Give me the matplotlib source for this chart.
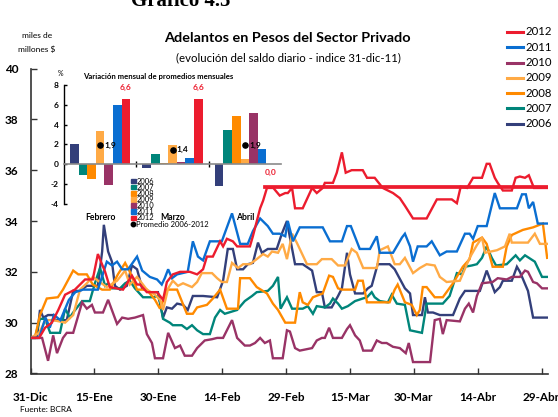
import matplotlib
matplotlib.use("Agg")
import matplotlib.pyplot as plt
from matplotlib.lines import Line2D
from matplotlib.patches import Rectangle
import numpy as np

plt.rcParams['font.family'] = ['Lato', 'DejaVu Sans']

# ---------------- DATA ----------------
years = ['2006', '2007', '2008', '2009', '2010', '2011', '2012']
colors = {'2006': '#333F7A', '2007': '#00857A', '2008': '#FF8A00', '2009': '#FFAA45',
          '2010': '#993366', '2011': '#0A6ED1', '2012': '#EC1C2E'}

x_tick_days = [0, 15, 30, 45, 60, 75, 90, 105, 120]
x_tick_labels = ['31-Dic', '15-Ene', '30-Ene', '14-Feb', '29-Feb', '15-Mar', '30-Mar', '14-Abr', '29-Abr']
y_ticks = [28, 30, 32, 34, 36, 38, 40]

# (day since 31-Dic, index value)
s2012 = [(0, 29.4), (2, 29.4), (3.4, 29.8), (5, 30.0), (6.5, 30.5), (8.1, 31.1), (10.4, 31.3), (12.8, 31.7),
         (14.6, 31.7), (15.8, 32.7), (17.5, 32.0), (18.6, 31.4), (21.7, 31.3), (23.8, 31.85), (25, 31.5),
         (25.7, 31.5), (27.3, 31.2), (29.7, 31.2), (31.1, 30.9), (32, 31.6), (33.4, 31.9), (35.1, 32.0),
         (37.4, 32.0), (39.1, 31.9), (40.5, 32.1), (41.4, 32.6), (42.8, 32.6), (44.5, 33.2), (45.2, 33.0),
         (46.1, 33.3), (47.5, 33.2), (48.5, 33.0), (51.5, 33.0), (52.2, 33.4), (53.9, 34.5), (54.6, 34.8),
         (55.5, 35.3), (57, 35.3), (58.5, 35.0), (59.8, 35.1), (60.4, 35.1), (61.4, 35.3), (62.1, 34.5),
         (63.9, 34.5), (66.1, 35.3), (67.2, 35.1), (68.6, 35.3), (69.1, 35.5), (71, 35.5), (71.9, 35.9),
         (73.1, 36.7), (74, 35.9), (75.4, 36.0), (78, 36.0), (79, 35.7), (80.8, 35.7), (82.7, 35.3),
         (85.1, 35.1), (86.7, 34.9), (87.9, 34.6), (89.8, 34.1), (93, 34.1), (95.4, 34.85), (98.9, 34.85),
         (100.1, 34.7), (101, 35.35), (102.5, 35.3), (103.9, 35.7), (106, 35.7), (107.1, 36.25),
         (107.8, 36.25), (109, 35.7), (109.7, 35.5), (110.9, 35.2), (113, 35.2), (113.9, 35.7),
         (114.9, 35.75), (116.1, 35.7), (117, 35.8), (118.2, 35.3), (121.3, 35.3)]
ref2012 = [(55, 35.33), (121.3, 35.33)]

s2011 = [(0, 29.4), (2, 29.4), (3.5, 30.2), (4.5, 29.8), (5.5, 30.3), (7, 30.1), (8, 30.5), (9, 30.9),
         (10.5, 31.2), (12.3, 31.3), (15.8, 31.3), (17.9, 32.4), (19.1, 32.25), (20.3, 32.4), (21.5, 32.1),
         (22.9, 32.1), (25, 32.6), (26.2, 32.05), (28, 31.8), (29.7, 31.7), (30.8, 31.5), (31.5, 31.75),
         (32.3, 32.1), (33.2, 31.75), (34.4, 31.9), (36.9, 32.0), (38.1, 33.2), (39.3, 32.6), (40.5, 32.45),
         (42.1, 33.2), (44.9, 33.2), (47.3, 34.3), (49.2, 33.1), (51, 33.1), (52.2, 33.6), (53.9, 34.1),
         (55.7, 33.8), (56.9, 33.5), (58.5, 33.5), (59.8, 33.4), (60.4, 34.0), (61.6, 33.2), (63.2, 33.75),
         (68.6, 33.75), (70.3, 33.2), (73.1, 33.2), (74.3, 33.8), (75.2, 33.8), (77.3, 32.9), (79.7, 32.9),
         (81.3, 33.4), (82, 32.75), (85.1, 32.75), (87.2, 33.35), (87.9, 33.5), (89.1, 33.0), (89.8, 32.4),
         (90.9, 33.0), (93, 33.0), (94.2, 33.2), (96.1, 32.65), (97.7, 32.8), (100.1, 32.8), (102, 33.5),
         (103.1, 33.5), (103.9, 33.3), (105, 33.8), (107.1, 33.8), (109, 35.1), (110.2, 34.5), (114.2, 34.5),
         (115.4, 35.05), (116.3, 35.05), (117, 34.5), (118, 34.75), (119.1, 33.9), (121.3, 33.9)]

s2010 = [(0, 29.4), (2.7, 29.4), (4.1, 28.5), (5.3, 29.5), (6.2, 28.8), (7.6, 29.4), (8.5, 29.6), (10, 29.6),
         (12.1, 30.8), (13.2, 30.55), (14.4, 30.7), (15.1, 30.4), (17, 30.4), (18.2, 30.9), (20.3, 29.95),
         (21.5, 30.2), (22.9, 30.15), (24.5, 30.2), (26.4, 30.3), (27.3, 29.55), (28.5, 29.2), (29.2, 28.6),
         (31.1, 28.6), (32.3, 29.6), (33.9, 29.0), (35.1, 29.1), (36.2, 28.7), (37.9, 28.7), (39.1, 29.0),
         (40.9, 29.3), (42.6, 29.35), (43.8, 29.4), (45.2, 29.4), (47.3, 30.1), (48.5, 29.4), (50.3, 29.1),
         (51.5, 29.1), (52.7, 29.2), (53.9, 29.4), (55, 29.2), (56.2, 29.3), (56.9, 28.6), (59.2, 28.6),
         (60.2, 29.7), (60.9, 29.65), (62.1, 29.0), (63.2, 28.9), (66.1, 29.0), (67.2, 29.3), (68.4, 29.4),
         (69.1, 29.4), (70.1, 29.8), (71, 29.4), (73.1, 29.4), (74.3, 29.75), (75, 29.9), (76.2, 29.5),
         (77.3, 29.3), (78.1, 28.9), (80.1, 28.9), (81.3, 29.3), (82.5, 29.2), (83.6, 29.2), (85.1, 29.05),
         (86.7, 29.0), (88.1, 28.8), (88.8, 29.2), (89.8, 28.45), (93.8, 28.45), (94.9, 30.1), (96.1, 30.15),
         (96.8, 29.55), (97.7, 30.1), (100.8, 30.05), (102, 30.55), (102.9, 30.75), (103.9, 30.4),
         (104.8, 31.05), (106, 31.55), (108.5, 31.6), (109.7, 31.75), (111.8, 31.7), (113, 31.8),
         (114.9, 31.8), (116.1, 32.05), (116.8, 32.0), (118, 31.6), (118.9, 31.55), (120.1, 31.35), (121.3, 31.35)]

s2009 = [(0, 29.4), (2, 29.6), (3.5, 30.1), (5.3, 30.1), (8.1, 30.0), (10, 30.3), (11.6, 31.3), (13.2, 31.55),
         (14.6, 31.8), (17.9, 31.4), (20.3, 31.65), (22.2, 32.05), (23.3, 31.5), (25, 31.8), (27.3, 31.3),
         (29.2, 31.1), (30.4, 30.9), (31.1, 30.5), (32.3, 31.35), (33.4, 31.65), (34.6, 31.45), (35.8, 31.55),
         (37.9, 31.4), (39.1, 31.6), (40.2, 31.95), (42.6, 31.95), (43.8, 31.75), (44.9, 31.6), (46.1, 31.6),
         (47.3, 32.35), (48.7, 32.15), (49.9, 32.3), (51.5, 32.3), (53.1, 32.5), (54.6, 32.7), (55.7, 32.6),
         (56.7, 32.8), (58.1, 32.75), (59.2, 33.1), (60.2, 32.5), (61.4, 33.5), (62.5, 33.15), (64.9, 32.3),
         (67.2, 32.3), (68.4, 32.5), (70.7, 32.5), (72.2, 32.25), (73.8, 32.25), (75.4, 32.9), (76.6, 32.75),
         (78.1, 32.15), (81.3, 32.15), (82, 32.85), (83.9, 33.0), (85.5, 32.3), (86.7, 32.3), (87.9, 32.55),
         (89.8, 31.95), (91.4, 32.15), (93, 32.3), (94.9, 32.25), (96.1, 31.8), (97.7, 31.6), (100.8, 31.65),
         (103.1, 32.55), (104.8, 33.05), (106, 33.35), (106.7, 32.75), (109.5, 32.85), (111.4, 33.0),
         (112.5, 33.5), (113, 33.15), (116.8, 33.15), (118.4, 33.5), (119.6, 33.1), (121.3, 33.1)]

s2008 = [(0, 29.4), (1, 29.4), (2.2, 30.3), (3.8, 30.95), (6.4, 31.0), (7.6, 31.3), (10, 32.05), (11.2, 31.9),
         (13.2, 31.9), (13.9, 31.7), (14.6, 31.5), (16.8, 31.3), (18.6, 31.3), (20.5, 31.9), (22.2, 32.35),
         (23.3, 32.0), (25, 31.3), (27.3, 31.3), (29.2, 30.9), (30.4, 30.55), (32, 31.3), (34.4, 31.3),
         (36.7, 30.35), (38.1, 30.35), (39.1, 30.6), (41.4, 30.7), (42.8, 30.95), (44.5, 31.3), (46.1, 30.55),
         (48.7, 30.55), (49.2, 31.75), (51.5, 31.75), (53.1, 31.4), (55.5, 31.15), (56.9, 30.75), (58.1, 30.5),
         (59.8, 30.0), (62.1, 30.0), (63.2, 31.2), (63.9, 30.8), (65.1, 30.7), (66.3, 31.0), (68.6, 31.15),
         (70.1, 31.85), (71, 31.8), (72.2, 31.35), (73.1, 31.3), (76.2, 31.3), (76.9, 31.65), (78, 31.65),
         (79, 30.8), (84.3, 30.8), (85.5, 31.3), (86.2, 31.5), (87.9, 30.8), (89.5, 30.7), (90.7, 30.3),
         (91.4, 30.5), (92.1, 31.4), (93, 31.4), (94.9, 31.0), (96.8, 31.0), (99.2, 31.55), (101.5, 32.2),
         (103.1, 32.5), (103.9, 33.15), (106, 33.35), (107.1, 33.1), (108.5, 32.2), (110.9, 32.2),
         (111.8, 33.0), (113, 33.45), (115.6, 33.65), (118, 33.75), (120.3, 33.9), (121.3, 32.55)]

s2007 = [(0, 29.4), (1, 29.4), (2.2, 30.15), (3.4, 30.15), (4.6, 29.6), (6.9, 29.6), (8.1, 30.55), (9.2, 30.2),
         (10, 30.4), (12.1, 30.85), (13.9, 30.85), (15.1, 31.55), (16.3, 32.15), (17.5, 31.45), (18.2, 31.55),
         (19.1, 31.35), (21, 31.35), (22.2, 31.55), (23.3, 31.65), (24.5, 31.35), (26.4, 31.0), (28.7, 31.0),
         (29.9, 31.05), (30.4, 30.8), (31.1, 30.15), (32.7, 30.0), (33.4, 29.9), (35.5, 29.9), (36.7, 29.75),
         (37.9, 29.9), (39.1, 29.7), (40.5, 29.55), (42.1, 29.55), (43.3, 30.2), (44.5, 30.5), (45.6, 30.35),
         (48.5, 30.5), (50.3, 30.85), (52, 31.05), (53.1, 31.2), (55.7, 31.25), (56.9, 31.45), (58.1, 31.8),
         (58.7, 30.55), (60.2, 31.0), (61.4, 30.55), (63.9, 30.55), (65.1, 30.65), (66.3, 30.35),
         (67.2, 30.65), (69.1, 30.6), (70.3, 30.75), (71, 30.95), (72.2, 30.75), (73.1, 30.55), (74.5, 30.65),
         (76.2, 30.85), (78, 30.95), (79, 31.0), (80.1, 31.2), (80.8, 31.0), (82, 30.85), (83.9, 30.8),
         (84.8, 31.1), (86, 30.75), (87.9, 30.7), (89.1, 29.7), (91.9, 29.6), (93, 30.75), (96.8, 30.75),
         (98.4, 31.05), (100.1, 31.95), (101.3, 31.9), (102, 32.2), (103.6, 32.25), (104.8, 32.3),
         (106, 32.55), (107.1, 33.0), (108.3, 32.55), (109.3, 32.25), (111.8, 32.3), (113.9, 32.65),
         (114.9, 32.45), (116.1, 32.65), (118.4, 32.4), (120.1, 31.8), (121.3, 31.8)]

s2006 = [(0, 29.4), (1.5, 29.4), (2.2, 30.5), (3, 30.2), (4.1, 30.3), (5.3, 30.3), (5.7, 30.1), (8.5, 30.1),
         (10, 31.25), (11.6, 31.25), (13.2, 31.45), (15.8, 31.45), (16.8, 32.8), (17.2, 33.85), (18.2, 32.8),
         (19.1, 32.4), (19.8, 31.45), (21, 31.3), (22.6, 31.45), (23.8, 32.25), (25, 32.1), (26.2, 31.35),
         (28, 31.2), (29.9, 31.2), (31.1, 30.2), (32, 30.6), (33.2, 30.55), (34.4, 30.75), (35.8, 30.7),
         (36.9, 30.5), (38.1, 31.05), (40.5, 31.05), (43.8, 31.0), (45.2, 31.65), (46.3, 32.9), (47.5, 32.9),
         (48.5, 32.1), (49.9, 32.1), (51, 32.3), (52.2, 32.35), (53.4, 33.15), (54.3, 32.75), (55.7, 32.9),
         (57.8, 32.9), (59, 33.5), (60.2, 34.0), (60.9, 33.35), (62.1, 32.3), (63.9, 32.3), (66.1, 32.05),
         (67.2, 31.2), (68.4, 31.2), (69.1, 30.6), (70.7, 30.6), (72.2, 31.05), (73.1, 31.35), (74.3, 32.75),
         (75, 31.9), (76.2, 31.15), (78.1, 31.15), (79.2, 31.35), (80.1, 31.45), (81.5, 32.3), (84.3, 32.3),
         (85.5, 32.1), (87.9, 31.35), (89.1, 31.15), (89.8, 30.3), (91.9, 30.3), (92.6, 31.0), (93.3, 30.4),
         (94.5, 30.4), (96.1, 30.3), (99.2, 30.3), (100.8, 30.95), (102, 31.25), (105.5, 31.25),
         (107.1, 32.05), (109, 31.2), (110.2, 31.4), (110.9, 31.65), (113, 31.65), (114.2, 32.2),
         (114.9, 32.0), (116.8, 31.25), (118, 30.2), (121.3, 30.2)]

series = {'2006': s2006, '2007': s2007, '2008': s2008, '2009': s2009,
          '2010': s2010, '2011': s2011, '2012': s2012}

# Inset: monthly variation of monthly averages (%)
months = ['Febrero', 'Marzo', 'Abril']
var_2006 = [2.0, -0.4, -2.2]
var_2007 = [-1.1, 1.0, 3.45]
var_2008 = [-1.5, 0.1, 4.85]
var_2009 = [3.3, 1.9, 0.5]
var_2010 = [-2.1, 0.17, 5.15]
var_2011 = [6.0, 0.6, 1.5]
var_2012 = [6.6, 6.6, 0.0]
variations = {'2006': var_2006, '2007': var_2007, '2008': var_2008, '2009': var_2009,
              '2010': var_2010, '2011': var_2011, '2012': var_2012}
inset_y_ticks = [-4, -2, 0, 2, 4, 6, 8]

# ---------------- FIGURE ----------------
W, H = 558, 417
fig = plt.figure(figsize=(W / 100, H / 100), dpi=100)


def fx(x):
    return x / W


def fy(y):
    return 1 - y / H


ax = fig.add_axes([fx(30.6), fy(373.5), fx(548) - fx(30.6), fy(68.5) - fy(373.5)])
ax.set_xlim(0, 121.5)
ax.set_ylim(28, 40)
for side in ['top', 'right']:
    ax.spines[side].set_visible(False)
for side in ['left', 'bottom']:
    ax.spines[side].set_color('#333333')
    ax.spines[side].set_linewidth(1.2)
ax.patch.set_alpha(0)

for yr in years:
    d, v = zip(*series[yr])
    ax.plot(d, v, color=colors[yr], lw=1.7, solid_joinstyle='miter', zorder=3)
rd, rv = zip(*ref2012)
ax.plot(rd, rv, color=colors['2012'], lw=2.7, zorder=4)

ax.set_xticks(x_tick_days)
ax.set_xticklabels(x_tick_labels, fontweight='bold', fontsize=8.5)
ax.set_yticks(y_ticks)
ax.set_yticklabels([str(t) for t in y_ticks], fontweight='bold', fontsize=8.5)
ax.tick_params(axis='x', direction='in', length=4, width=1, color='#333333', pad=13)
ax.tick_params(axis='y', direction='in', length=4, width=1, color='#333333', pad=9)

# legend top right
leg_y = [31.7, 47.3, 62.7, 77.7, 93.3, 108.3, 124]
for yr, yy in zip(years[::-1], leg_y):
    fig.add_artist(Line2D([fx(507), fx(523)], [fy(yy), fy(yy)], color=colors[yr], lw=2.2,
                          transform=fig.transFigure))
    fig.text(fx(525), fy(yy), yr, fontsize=8.2, va='center', ha='left')

# titles
fig.text(fx(131), fy(6), 'Gráfico 4.5', family='Liberation Serif', fontweight='bold', fontsize=15,
         va='baseline', ha='left')
fig.text(fx(287), fy(38), 'Adelantos en Pesos del Sector Privado', fontweight='bold', fontsize=10.4,
         ha='center', va='center')
fig.text(fx(288), fy(58), '(evolución del saldo diario - indice 31-dic-11)', fontsize=8.2,
         ha='center', va='center')
fig.text(fx(37), fy(35), 'miles de', fontsize=6, ha='center', va='center')
fig.text(fx(37), fy(49), 'millones $', fontsize=6, ha='center', va='center')
fig.text(fx(20), fy(409), 'Fuente: BCRA', fontsize=6, ha='left', va='center')

# ---------------- INSET ----------------
axi = fig.add_axes([fx(64), fy(203.5), fx(281) - fx(64), fy(85) - fy(203.5)])
axi.set_xlim(-0.5, 2.5)
axi.set_ylim(-4, 8)
axi.patch.set_alpha(0)
axi.spines['top'].set_visible(False)
axi.spines['right'].set_visible(False)
axi.spines['left'].set_color('black')
axi.spines['left'].set_linewidth(1.0)
axi.spines['bottom'].set_position(('data', 0))
axi.spines['bottom'].set_color('#8a8a8a')
axi.spines['bottom'].set_linewidth(1.2)
axi.set_xticks([0.5, 1.5])
axi.set_xticklabels([])
axi.tick_params(axis='x', direction='inout', length=5, width=1, color='black')
axi.set_yticks(inset_y_ticks)
axi.set_yticklabels([str(t) for t in inset_y_ticks], fontweight='bold', fontsize=6)
axi.tick_params(axis='y', direction='in', length=2.5, width=1, pad=4)

bw = 0.1186
gx = np.arange(len(months))
for i, yr in enumerate(years):
    axi.bar(gx + (i - 3) * bw, variations[yr], width=bw, color=colors[yr], zorder=2)

avgs = np.mean([variations[yr] for yr in years], axis=0)
axi.scatter(gx, avgs, s=14, color='black', zorder=5)
for x, a in zip(gx, avgs):
    axi.annotate(f'{a:.1f}'.replace('.', ','), (x, a), xytext=(3, 0), textcoords='offset points',
                 fontsize=6, fontweight='bold', va='center', ha='left')

for x, v in zip(gx + 3 * bw, var_2012):
    yv = v + 1.15 if v > 0.5 else v - 0.85
    axi.text(x, yv, f'{v:.1f}'.replace('.', ','), color=colors['2012'], fontsize=6,
             fontweight='bold', ha='center', va='center')

for x, m in zip(gx, months):
    axi.text(x, -5.37, m, fontsize=6.2, fontweight='bold', ha='center', va='center', clip_on=False)

fig.text(fx(60), fy(73), '%', fontsize=5, ha='center', va='center')
fig.text(fx(83), fy(76), 'Variación mensual de promedios mensuales', fontsize=5.6, fontweight='bold',
         ha='left', va='center')

# inset legend
for k, yr in enumerate(years):
    yy = 181 + 6.15 * k
    fig.patches.append(Rectangle((fx(131), fy(yy + 2.3)), fx(4.6), fy(0) - fy(4.6), color=colors[yr],
                                 transform=fig.transFigure))
    fig.text(fx(136.5), fy(yy), yr, fontsize=5.5, ha='left', va='center')
yy = 181 + 6.15 * 7
fig.add_artist(Line2D([fx(133.3)], [fy(yy)], marker='o', markersize=3.2, color='black',
                      transform=fig.transFigure))
fig.text(fx(136.5), fy(yy), 'Promedio 2006-2012', fontsize=5.5, ha='left', va='center')

fig.savefig('out.png', dpi=100)
